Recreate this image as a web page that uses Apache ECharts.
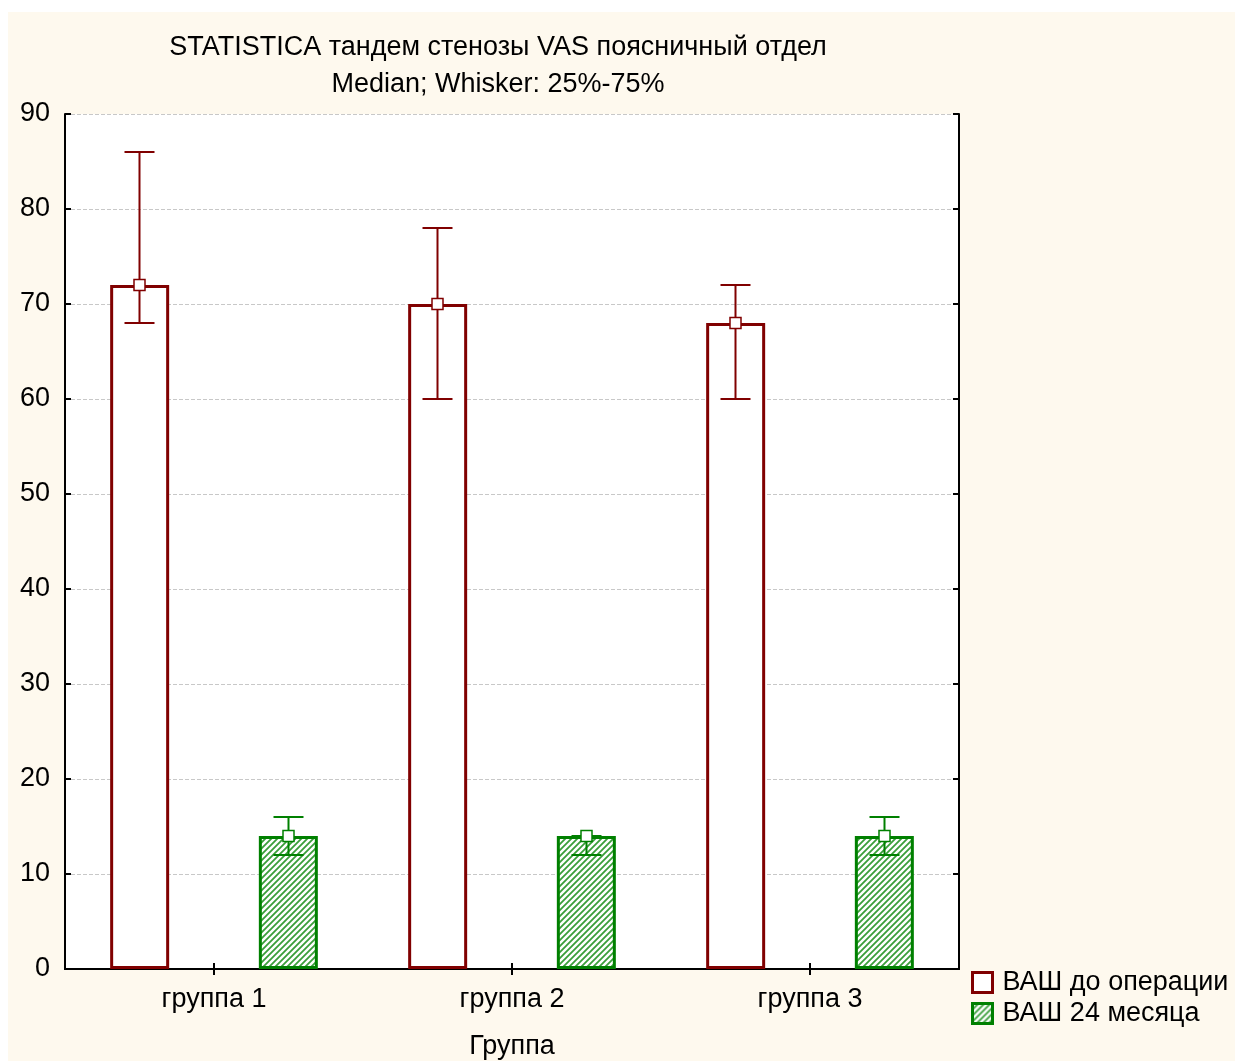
<!DOCTYPE html>
<html>
<head>
<meta charset="utf-8">
<title>STATISTICA тандем стенозы VAS поясничный отдел</title>
<script src="https://cdn.jsdelivr.net/npm/echarts@6/dist/echarts.min.js"></script>
<style>
  html, body { margin: 0; padding: 0; background: #ffffff; }
  #chart {
    width: 1235px; height: 1061px;
    background: #fef9ee;
    box-shadow: inset 8px 12px 0 0 #ffffff;
  }
</style>
</head>
<body>
<div id="chart"></div>
<script>
// Groups on the category axis
const categories = ['группа 1', 'группа 2', 'группа 3'];
const seriesNames = ['ВАШ до операции', 'ВАШ 24 месяца'];

// VAS before surgery: median and 25%–75% whiskers
const beforeMedian = [72, 70, 68];
const beforeQ1 = [68, 60, 60];
const beforeQ3 = [86, 78, 72];

// VAS after 24 months: median and 25%–75% whiskers
const after24Median = [14, 14, 14];
const after24Q1 = [12, 12, 12];
const after24Q3 = [16, 14, 16];

// Value axis ticks
const yMin = 0, yMax = 90, yStep = 10;

const FONT = '"Liberation Sans", Arial, sans-serif';
const FS = 27;
const RED = '#800000';
const GREEN = '#008000';

// Diagonal hatch tile for the 24-month bars
function hatchTile() {
  const c = document.createElement('canvas');
  c.width = 6; c.height = 6;
  const g = c.getContext('2d');
  g.fillStyle = '#ffffff';
  g.fillRect(0, 0, 6, 6);
  g.strokeStyle = '#3a9e3a';
  g.lineWidth = 1.8;
  g.beginPath();
  g.moveTo(-1, 7); g.lineTo(7, -1);
  g.moveTo(-4, 4); g.lineTo(4, -4);
  g.moveTo(2, 10); g.lineTo(10, 2);
  g.stroke();
  return { image: c, repeat: 'repeat' };
}
const hatch = hatchTile();

// Whiskers and median marker, offset to the bar's slot within the category band
function whiskerRenderer(color, slot) {
  return function (params, api) {
    const i = api.value(0);
    const med = api.value(1), lo = api.value(2), hi = api.value(3);
    const band = api.size([1, 0])[0];
    const x = api.coord([i, med])[0] + slot * band;
    const yMed = api.coord([i, med])[1];
    const yLo = api.coord([i, lo])[1];
    const yHi = api.coord([i, hi])[1];
    const cap = 15, m = 5.5;
    const line = { stroke: color, lineWidth: 2 };
    return {
      type: 'group',
      children: [
        { type: 'line', shape: { x1: x, y1: yLo, x2: x, y2: yHi }, style: line },
        { type: 'line', shape: { x1: x - cap, y1: yHi, x2: x + cap, y2: yHi }, style: line },
        { type: 'line', shape: { x1: x - cap, y1: yLo, x2: x + cap, y2: yLo }, style: line },
        { type: 'rect', shape: { x: x - m, y: yMed - m, width: 2 * m, height: 2 * m },
          style: { fill: '#ffffff', stroke: color, lineWidth: 1.5 } }
      ]
    };
  };
}

function whiskerData(med, q1, q3) {
  return med.map((v, i) => [i, v, q1[i], q3[i]]);
}

const axisLine = { show: true, lineStyle: { color: '#000000', width: 2 } };
const innerTick = { show: true, inside: true, length: 6, lineStyle: { color: '#000000', width: 2 } };

const chart = echarts.init(document.getElementById('chart'), null, { renderer: 'canvas' });

chart.setOption({
  backgroundColor: 'transparent',
  animation: false,
  title: [
    {
      text: 'STATISTICA тандем стенозы VAS поясничный отдел',
      left: 493, top: 29, textAlign: 'center',
      textStyle: { fontFamily: FONT, fontSize: FS, fontWeight: 'normal', color: '#000000' }
    },
    {
      text: 'Median; Whisker: 25%-75%',
      left: 493, top: 66, textAlign: 'center',
      textStyle: { fontFamily: FONT, fontSize: FS, fontWeight: 'normal', color: '#000000' }
    }
  ],
  legend: {
    orient: 'vertical',
    left: 971, top: 969, padding: 0,
    itemWidth: 20, itemHeight: 20, itemGap: 4,
    icon: 'rect',
    textStyle: { fontFamily: FONT, fontSize: FS, color: '#000000', padding: [0, 0, 0, 5] },
    data: [
      { name: seriesNames[0], itemStyle: { color: '#ffffff', borderColor: RED, borderWidth: 3 } },
      { name: seriesNames[1], itemStyle: { color: hatch, borderColor: GREEN, borderWidth: 3 } }
    ]
  },
  grid: {
    left: 65, top: 114, right: 276, bottom: 92,
    outerBoundsMode: 'none', containLabel: false,
    show: true, backgroundColor: '#ffffff', borderWidth: 0
  },
  xAxis: [
    {
      type: 'category', data: categories, position: 'bottom',
      axisLine: axisLine,
      axisTick: Object.assign({ alignWithLabel: true }, innerTick),
      axisLabel: { fontFamily: FONT, fontSize: FS, color: '#000000', margin: 17 },
      name: 'Группа', nameLocation: 'middle', nameGap: 64,
      nameTextStyle: { fontFamily: FONT, fontSize: FS, color: '#000000' }
    },
    {
      type: 'category', data: categories, position: 'top',
      axisLine: axisLine,
      axisTick: Object.assign({ alignWithLabel: true }, innerTick),
      axisLabel: { show: false }
    }
  ],
  yAxis: [
    {
      type: 'value', min: yMin, max: yMax, interval: yStep, position: 'left',
      axisLine: axisLine, axisTick: innerTick,
      axisLabel: { fontFamily: FONT, fontSize: FS, color: '#000000', margin: 15 },
      splitLine: { show: true, lineStyle: { color: '#c8c8c8', width: 1, type: [4, 2] } }
    },
    {
      type: 'value', min: yMin, max: yMax, interval: yStep, position: 'right',
      axisLine: axisLine, axisTick: innerTick,
      axisLabel: { show: false }, splitLine: { show: false }
    }
  ],
  series: [
    {
      name: seriesNames[0], type: 'bar', data: beforeMedian,
      barWidth: 59, barGap: '152%',
      itemStyle: { color: '#ffffff', borderColor: RED, borderWidth: 3 },
      z: 2
    },
    {
      name: seriesNames[1], type: 'bar', data: after24Median,
      barWidth: 59,
      itemStyle: { color: hatch, borderColor: GREEN, borderWidth: 3 },
      z: 2
    },
    {
      name: seriesNames[0], type: 'custom',
      data: whiskerData(beforeMedian, beforeQ1, beforeQ3),
      encode: { x: 0, y: 1 },
      renderItem: whiskerRenderer(RED, -0.25),
      z: 5
    },
    {
      name: seriesNames[1], type: 'custom',
      data: whiskerData(after24Median, after24Q1, after24Q3),
      encode: { x: 0, y: 1 },
      renderItem: whiskerRenderer(GREEN, 0.25),
      z: 5
    }
  ]
});
</script>
</body>
</html>
